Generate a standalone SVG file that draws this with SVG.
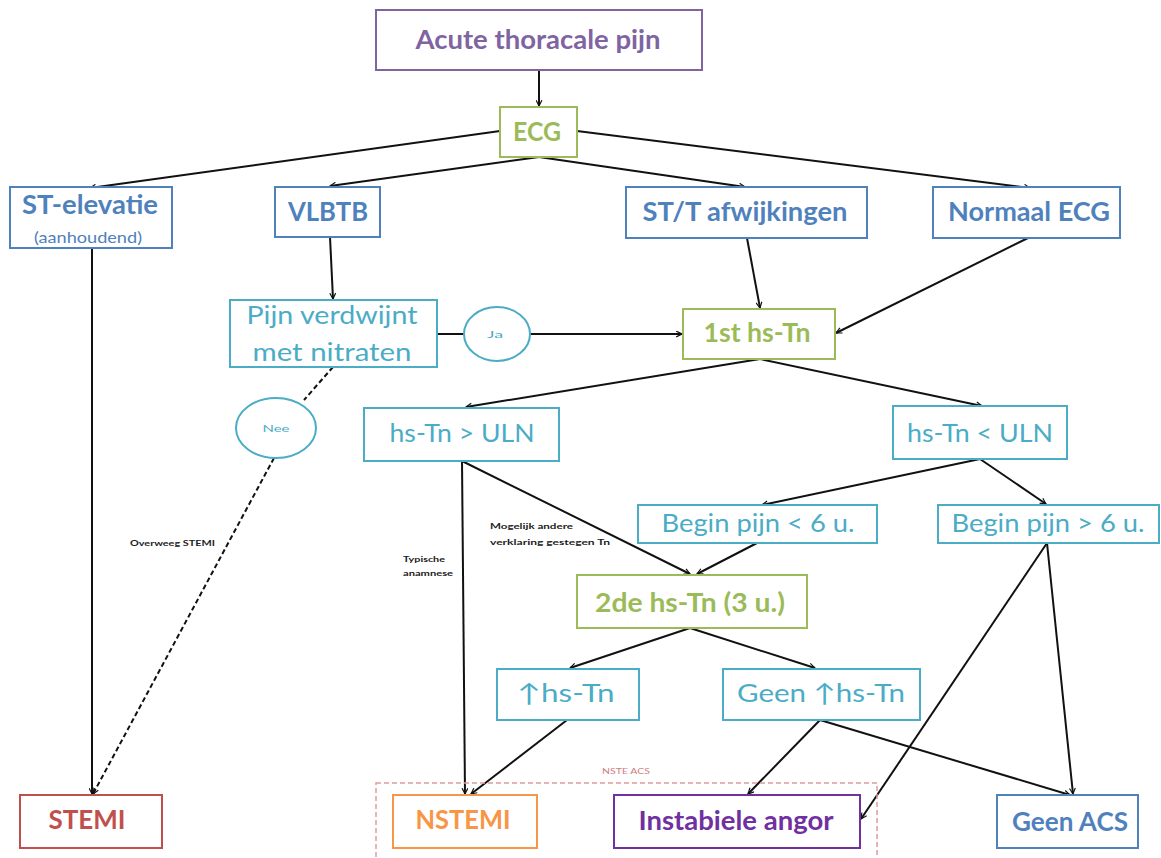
<svg xmlns="http://www.w3.org/2000/svg" width="1161" height="858" viewBox="0 0 1161 858">
<defs>
<marker id="arr" viewBox="0 0 12 12" refX="11" refY="6" markerWidth="7" markerHeight="7" orient="auto" markerUnits="userSpaceOnUse">
<path d="M1,1 L11,6 L1,11" fill="none" stroke="#111" stroke-width="2"/>
</marker>
<style>
.box{fill:#fff;stroke-width:2}
.purple{stroke:#8064A2}
.green{stroke:#9BBB59}
.blue{stroke:#4F81BD}
.cyan{stroke:#4BACC6}
.red{stroke:#C0504D}
.orange{stroke:#F79646}
.dpurple{stroke:#7030A0}
text{font-family:Lato,"Open Sans","Liberation Sans",sans-serif;text-anchor:middle}
.t{font-size:26px;font-weight:bold}
.tn{font-size:25px;font-weight:normal;fill:#4BACC6}
.tpurple{fill:#8064A2}
.tgreen{fill:#9BBB59}
.tblue{fill:#4F81BD}
.tred{fill:#C0504D}
.torange{fill:#F79646}
.tdpurple{fill:#7030A0}
.small{font-size:7px;font-weight:bold;fill:#222;text-anchor:start}
.c{fill:none;stroke:#111;stroke-width:2}
.a{marker-end:url(#arr)}
.d{stroke-dasharray:5,3}
</style>
</defs>

<g id="connectors">
<line class="c a" x1="539" y1="70" x2="539" y2="106"/>
<line class="c a" x1="500" y1="131" x2="90" y2="188"/>
<line class="c a" x1="539" y1="157" x2="330" y2="186"/>
<line class="c a" x1="539" y1="157" x2="745" y2="187"/>
<line class="c a" x1="577" y1="131" x2="1030" y2="188"/>
<line class="c a" x1="92" y1="248" x2="92" y2="794"/>
<line class="c a" x1="330" y1="237" x2="333" y2="299"/>
<line class="c" x1="437" y1="334" x2="464" y2="334"/>
<line class="c a" x1="530" y1="334" x2="682" y2="334"/>
<line class="c a" x1="747" y1="238" x2="760" y2="308"/>
<line class="c a" x1="1028" y1="238" x2="836" y2="333"/>
<line class="c d" x1="333" y1="367" x2="304" y2="400"/>
<line class="c d a" x1="274" y1="458" x2="93" y2="794"/>
<line class="c a" x1="760" y1="359" x2="466" y2="407"/>
<line class="c a" x1="760" y1="359" x2="982" y2="406"/>
<line class="c a" x1="462" y1="461" x2="465" y2="794"/>
<line class="c a" x1="462" y1="461" x2="690" y2="574"/>
<line class="c a" x1="980" y1="459" x2="762" y2="505"/>
<line class="c a" x1="980" y1="459" x2="1046" y2="504"/>
<line class="c a" x1="757" y1="543" x2="697" y2="574"/>
<line class="c a" x1="1047" y1="543" x2="1073" y2="794"/>
<line class="c a" x1="1047" y1="543" x2="861" y2="819"/>
<line class="c a" x1="690" y1="628" x2="570" y2="668"/>
<line class="c a" x1="690" y1="628" x2="815" y2="668"/>
<line class="c a" x1="567" y1="720" x2="471" y2="794"/>
<line class="c a" x1="820" y1="720" x2="748" y2="794"/>
<line class="c a" x1="820" y1="720" x2="1070" y2="795"/>
<text class="small" x="130" y="546" textLength="85" lengthAdjust="spacingAndGlyphs">Overweeg  STEMI</text>
<text class="small" x="490" y="529" textLength="83" lengthAdjust="spacingAndGlyphs">Mogelijk  andere</text>
<text class="small" x="490" y="545" textLength="120" lengthAdjust="spacingAndGlyphs">verklaring  gestegen  Tn</text>
<text class="small" x="403" y="562" textLength="42" lengthAdjust="spacingAndGlyphs">Typische</text>
<text class="small" x="403" y="576" textLength="50" lengthAdjust="spacingAndGlyphs">anamnese</text>
</g>

<g id="nste-acs">
<rect x="376" y="783" width="501" height="80" fill="none" stroke="#E49A9A" stroke-width="1.5" stroke-dasharray="5,3"/>
<text x="626" y="774" textLength="48" lengthAdjust="spacingAndGlyphs" style="font-size:7px;fill:#D08080">NSTE  ACS</text>
</g>

<g id="n-acute"><rect class="box purple" x="376" y="10" width="326" height="60"/><text class="t tpurple" x="538" y="49" textLength="245" lengthAdjust="spacingAndGlyphs">Acute thoracale pijn</text></g>
<g id="n-ecg"><rect class="box green" x="500" y="107" width="77" height="50"/><text class="t tgreen" x="537" y="141" textLength="48" lengthAdjust="spacingAndGlyphs">ECG</text></g>
<g id="n-stelev"><rect class="box blue" x="10" y="187" width="162" height="61"/><text class="t tblue" x="90" y="214" textLength="136" lengthAdjust="spacingAndGlyphs">ST-elevatie</text><text class="tblue" x="88" y="243" textLength="108" lengthAdjust="spacingAndGlyphs" style="font-size:15px">(aanhoudend)</text></g>
<g id="n-vlbtb"><rect class="box blue" x="275" y="187" width="105" height="50"/><text class="t tblue" x="328" y="221" textLength="80" lengthAdjust="spacingAndGlyphs">VLBTB</text></g>
<g id="n-stt"><rect class="box blue" x="626" y="187" width="241" height="51"/><text class="t tblue" x="745" y="221" textLength="205" lengthAdjust="spacingAndGlyphs">ST/T afwijkingen</text></g>
<g id="n-normaal"><rect class="box blue" x="933" y="187" width="187" height="51"/><text class="t tblue" x="1029" y="221" textLength="162" lengthAdjust="spacingAndGlyphs">Normaal ECG</text></g>
<g id="n-pijn"><rect class="box cyan" x="230" y="300" width="207" height="67"/><text class="tn" x="332" y="324" textLength="171" lengthAdjust="spacingAndGlyphs">Pijn verdwijnt</text><text class="tn" x="332" y="361" textLength="159" lengthAdjust="spacingAndGlyphs">met nitraten</text></g>
<g id="n-ja"><ellipse class="box cyan" cx="497" cy="334" rx="33" ry="27"/><text x="495" y="338" textLength="16" lengthAdjust="spacingAndGlyphs" style="font-size:10px;fill:#4BACC6">Ja</text></g>
<g id="n-nee"><ellipse class="box cyan" cx="276" cy="428" rx="40" ry="30"/><text x="276" y="432" textLength="27" lengthAdjust="spacingAndGlyphs" style="font-size:10px;fill:#4BACC6">Nee</text></g>
<g id="n-tn1"><rect class="box green" x="683" y="309" width="152" height="50"/><text class="t tgreen" x="757" y="342" textLength="107" lengthAdjust="spacingAndGlyphs">1st hs-Tn</text></g>
<g id="n-gt"><rect class="box cyan" x="364" y="408" width="195" height="53"/><text class="tn" x="462" y="442" textLength="145" lengthAdjust="spacingAndGlyphs">hs-Tn &gt; ULN</text></g>
<g id="n-lt"><rect class="box cyan" x="893" y="406" width="174" height="53"/><text class="tn" x="980" y="442" textLength="146" lengthAdjust="spacingAndGlyphs">hs-Tn &lt; ULN</text></g>
<g id="n-blt6"><rect class="box cyan" x="638" y="505" width="239" height="38"/><text class="tn" x="758" y="532" textLength="193" lengthAdjust="spacingAndGlyphs">Begin pijn &lt; 6 u.</text></g>
<g id="n-bgt6"><rect class="box cyan" x="938" y="505" width="221" height="38"/><text class="tn" x="1048" y="532" textLength="193" lengthAdjust="spacingAndGlyphs">Begin pijn &gt; 6 u.</text></g>
<g id="n-tn2"><rect class="box green" x="577" y="575" width="230" height="53"/><text class="t tgreen" x="690" y="612" textLength="190" lengthAdjust="spacingAndGlyphs">2de hs-Tn (3 u.)</text></g>
<g id="n-up"><rect class="box cyan" x="497" y="669" width="142" height="51"/><text class="tn" x="566" y="702" textLength="97" lengthAdjust="spacingAndGlyphs">↑hs-Tn</text></g>
<g id="n-noup"><rect class="box cyan" x="723" y="669" width="197" height="51"/><text class="tn" x="821" y="702" textLength="168" lengthAdjust="spacingAndGlyphs">Geen ↑hs-Tn</text></g>
<g id="n-stemi"><rect class="box red" x="20" y="795" width="142" height="53"/><text class="t tred" x="87" y="829" textLength="77" lengthAdjust="spacingAndGlyphs">STEMI</text></g>
<g id="n-nstemi"><rect class="box orange" x="393" y="795" width="144" height="53"/><text class="t torange" x="463" y="829" textLength="95" lengthAdjust="spacingAndGlyphs">NSTEMI</text></g>
<g id="n-ia"><rect class="box dpurple" x="614" y="795" width="246" height="53"/><text class="t tdpurple" x="736" y="830" textLength="195" lengthAdjust="spacingAndGlyphs">Instabiele angor</text></g>
<g id="n-geenacs"><rect class="box blue" x="997" y="795" width="141" height="53"/><text class="t tblue" x="1070" y="831" textLength="116" lengthAdjust="spacingAndGlyphs">Geen ACS</text></g>
</svg>
